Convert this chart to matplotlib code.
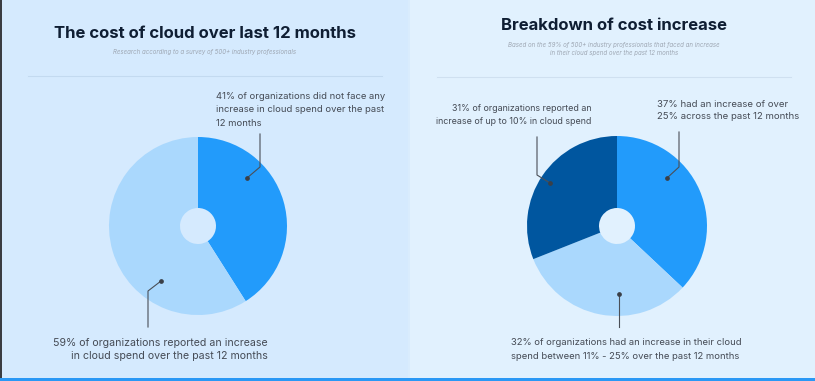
import matplotlib
matplotlib.use("Agg")
import matplotlib.pyplot as plt
from matplotlib.patches import Rectangle

# data
left_labels = ["No increase", "Increase"]
left_values = [41, 59]
right_labels = ["Over 25%", "11% - 25%", "Up to 10%"]
right_values = [37, 32, 31]

left_notes = [
    "41% of organizations did not face any\nincrease in cloud spend over the past\n12 months",
    "59% of organizations reported an increase\nin cloud spend over the past 12 months",
]
right_notes = [
    "37% had an increase of over\n25% across the past 12 months",
    "32% of organizations had an increase in their cloud\nspend between 11% - 25% over the past 12 months",
    "31% of organizations reported an\nincrease of up to 10% in cloud spend",
]

BG_LEFT = "#d5eafe"
BG_RIGHT = "#e1f1fe"
BLUE = "#229bfb"
LIGHT = "#aad8fd"
DARK = "#00569f"
TITLE_C = "#0f1e33"
NOTE_C = "#454b55"
SUB_C = "#9ea7b3"

plt.rcParams["font.family"] = ["Inter", "DejaVu Sans"]

W, H = 815, 381
fig = plt.figure(figsize=(W / 100, H / 100), dpi=100)

# background panels
bg = fig.add_axes([0, 0, 1, 1], zorder=0)
bg.set_xlim(0, W)
bg.set_ylim(H, 0)
bg.axis("off")
bg.add_patch(Rectangle((0, 0), 409, H, color=BG_LEFT, lw=0))
bg.add_patch(Rectangle((409, 0), W - 409, H, color=BG_RIGHT, lw=0))
bg.add_patch(Rectangle((408, 0), 2, H, color="#d9ecfd", lw=0))
bg.add_patch(Rectangle((0, 0), 2, H, color="#3a3d42", lw=0))
bg.add_patch(Rectangle((0, 378), W, 3, color="#2a98f5", lw=0))


def pie_axes(cx, cy, r):
    ax = fig.add_axes([(cx - r) / W, (H - cy - r) / H, 2 * r / W, 2 * r / H], zorder=1)
    ax.axis("off")
    return ax


hole = 18
ax1 = pie_axes(198, 226, 89)
ax1.pie(left_values, colors=[BLUE, LIGHT], startangle=90, counterclock=False,
        radius=1, wedgeprops=dict(width=1 - hole / 89, linewidth=0))
ax1.set_xlim(-1, 1)
ax1.set_ylim(-1, 1)

ax2 = pie_axes(617, 226, 90)
ax2.pie(right_values, colors=[BLUE, LIGHT, DARK], startangle=90, counterclock=False,
        radius=1, wedgeprops=dict(width=1 - hole / 90, linewidth=0))
ax2.set_xlim(-1, 1)
ax2.set_ylim(-1, 1)

# overlay for text and leaders (pixel coords)
ov = fig.add_axes([0, 0, 1, 1], zorder=2)
ov.set_xlim(0, W)
ov.set_ylim(H, 0)
ov.axis("off")
ov.patch.set_alpha(0)

ov.text(205, 33, "The cost of cloud over last 12 months", ha="center", va="center",
        fontsize=12, fontweight="bold", color=TITLE_C)
ov.text(205, 52, "Research according to a survey of 500+ industry professionals",
        ha="center", va="center", fontsize=4.4, style="italic", color=SUB_C)
ov.plot([28, 382], [76, 76], color="#c3daf0", lw=0.8)

ov.text(614, 25, "Breakdown of cost increase", ha="center", va="center",
        fontsize=12, fontweight="bold", color=TITLE_C)
ov.text(614, 49, "Based on the 59% of 500+ industry professionals that faced an increase\nin their cloud spend over the past 12 months",
        ha="center", va="center", fontsize=4.4, style="italic", color=SUB_C, linespacing=1.5)
ov.plot([437, 791], [77, 77], color="#cfe0f0", lw=0.8)


def leader(pts):
    xs, ys = zip(*pts)
    ov.plot(xs, ys, color="#4a4f57", lw=0.8)
    ov.plot(xs[0], ys[0], "o", color="#3a3f47", ms=2.4)


kw = dict(color=NOTE_C, va="center")

# left panel notes
ov.text(216, 110, left_notes[0], ha="left", fontsize=6.8, linespacing=1.6, **kw)
leader([(247, 178), (260, 167), (260, 134)])
ov.text(268, 349.5, left_notes[1], ha="right", multialignment="right",
        fontsize=7.6, linespacing=1.45, **kw)
leader([(161, 281), (148, 291), (148, 327)])

# right panel notes
ov.text(657, 110.5, right_notes[0], ha="left", fontsize=6.9, linespacing=1.55, **kw)
leader([(667, 178), (679, 167), (679, 132)])
ov.text(511, 349.5, right_notes[1], ha="left", fontsize=6.8, linespacing=1.6, **kw)
leader([(619, 294), (619, 327)])
ov.text(591, 115, right_notes[2], ha="right", multialignment="right",
        fontsize=6.4, linespacing=1.7, **kw)
leader([(550, 183), (537, 175), (537, 137)])

fig.savefig("out.png", dpi=100)
